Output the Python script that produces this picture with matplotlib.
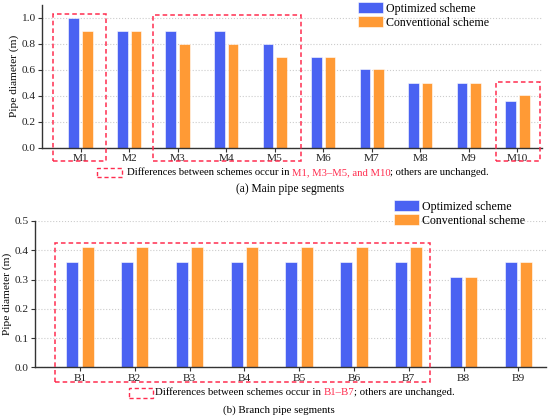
import numpy as np
import matplotlib
matplotlib.use("Agg")
import matplotlib.pyplot as plt
from matplotlib.patches import Rectangle

plt.rcParams['font.family'] = ['Liberation Serif', 'DejaVu Serif']

# data
main_labels = ['M1', 'M2', 'M3', 'M4', 'M5', 'M6', 'M7', 'M8', 'M9', 'M10']
main_opt = [1.0, 0.9, 0.9, 0.9, 0.8, 0.7, 0.61, 0.5, 0.5, 0.36]
main_conv = [0.9, 0.9, 0.8, 0.8, 0.7, 0.7, 0.61, 0.5, 0.5, 0.41]

branch_labels = ['B1', 'B2', 'B3', 'B4', 'B5', 'B6', 'B7', 'B8', 'B9']
branch_opt = [0.36, 0.36, 0.36, 0.36, 0.36, 0.36, 0.36, 0.31, 0.36]
branch_conv = [0.41, 0.41, 0.41, 0.41, 0.41, 0.41, 0.41, 0.31, 0.36]

series_names = ['Optimized scheme', 'Conventional scheme']

BLUE = '#4a62f2'
ORANGE = '#ff9a35'
RED = '#ff2d4f'
W, H = 550, 420


def fx(px):
    return px / W


def fy(py):
    return 1 - py / H


def style_axes(ax, ylim, yticks):
    ax.set_ylim(*ylim)
    ax.set_yticks(yticks)
    ax.set_yticklabels([f'{t:.1f}' for t in yticks])
    for s in ['top', 'right']:
        ax.spines[s].set_visible(False)
    for s in ['left', 'bottom']:
        ax.spines[s].set_color('#333333')
        ax.spines[s].set_linewidth(1.0)
    ax.tick_params(axis='both', labelsize=8.2, length=3, width=0.8,
                   colors='#333333', labelcolor='#222222', pad=1.5)
    ax.yaxis.grid(True, linestyle=':', color='#cccccc', linewidth=0.8)
    ax.set_axisbelow(True)
    ax.set_ylabel('Pipe diameter (m)', fontsize=8.2, labelpad=2)


def draw_bars(ax, labels, opt, conv):
    x = np.arange(len(labels))
    b1 = ax.bar(x - 0.14, opt, 0.22, color=BLUE, edgecolor='white', linewidth=0.4)
    b2 = ax.bar(x + 0.14, conv, 0.22, color=ORANGE, edgecolor='white', linewidth=0.4)
    ax.set_xticks(x)
    ax.set_xticklabels(labels)
    return b1, b2


def red_box(ax, x0, x1, y0, y1):
    r = Rectangle((x0, y0), x1 - x0, y1 - y0, fill=False, edgecolor=RED,
                  linewidth=1.1, linestyle=(0, (3, 2)), clip_on=False, zorder=5)
    ax.add_patch(r)


def mixed_text(fig, x_px, y_px, parts, size):
    renderer = fig.canvas.get_renderer()
    x = x_px
    for txt, col in parts:
        t = fig.text(fx(x), fy(y_px), txt, color=col, fontsize=size,
                     ha='left', va='center')
        bb = t.get_window_extent(renderer=renderer)
        x += bb.width


fig = plt.figure(figsize=(5.5, 4.2), dpi=100)

# (a) main pipes
ax1 = fig.add_axes([fx(41.7), fy(147.7), fx(500), (147.7 - 5) / H])
b1, b2 = draw_bars(ax1, main_labels, main_opt, main_conv)
ax1.set_xlim(-0.8, 9.5)
style_axes(ax1, (0, 1.1), [0.0, 0.2, 0.4, 0.6, 0.8, 1.0])
red_box(ax1, -0.56, 0.52, -0.1, 1.032)
red_box(ax1, 1.5, 4.54, -0.1, 1.025)
red_box(ax1, 8.55, 9.47, -0.1, 0.503)
fig.legend([b1, b2], series_names, loc='upper left',
           bbox_to_anchor=(fx(358), fy(2)), frameon=False, fontsize=8.6,
           handlelength=2.1, handleheight=1.1, labelspacing=0.1,
           handletextpad=0.25, borderpad=0, borderaxespad=0)

# (b) branch pipes
ax2 = fig.add_axes([fx(35), fy(367.3), fx(510.7), (367.3 - 221) / H])
c1, c2 = draw_bars(ax2, branch_labels, branch_opt, branch_conv)
ax2.set_xlim(-0.82, 8.5)
style_axes(ax2, (0, 0.5), [0.0, 0.1, 0.2, 0.3, 0.4, 0.5])
red_box(ax2, -0.45, 6.38, -0.049, 0.426)
fig.legend([c1, c2], series_names, loc='upper left',
           bbox_to_anchor=(fx(394), fy(200)), frameon=False, fontsize=8.6,
           handlelength=2.1, handleheight=1.1, labelspacing=0.1,
           handletextpad=0.25, borderpad=0, borderaxespad=0)

# captions
for (x0, y0, x1, y1) in [(97.3, 168.3, 121.7, 176.7), (129.3, 388.3, 153.3, 397.7)]:
    fig.patches.append(Rectangle((fx(x0), fy(y1)), fx(x1 - x0), (y1 - y0) / H,
                                 fill=False, edgecolor=RED, linewidth=1.0,
                                 linestyle=(0, (3, 2)), transform=fig.transFigure))

mixed_text(fig, 126.7, 172.7, [('Differences between schemes occur in ', 'black'),
                               ('M1, M3\u2013M5, and M10', RED),
                               ('; others are unchanged.', 'black')], 7.7)
fig.text(fx(290.5), fy(189.3), '(a) Main pipe segments', fontsize=8.3,
         ha='center', va='center')

mixed_text(fig, 155, 392.3, [('Differences between schemes occur in ', 'black'),
                             ('B1\u2013B7', RED),
                             ('; others are unchanged.', 'black')], 7.75)
fig.text(fx(279), fy(410), '(b) Branch pipe segments', fontsize=7.8,
         ha='center', va='center')

fig.savefig('out.png', dpi=100)
